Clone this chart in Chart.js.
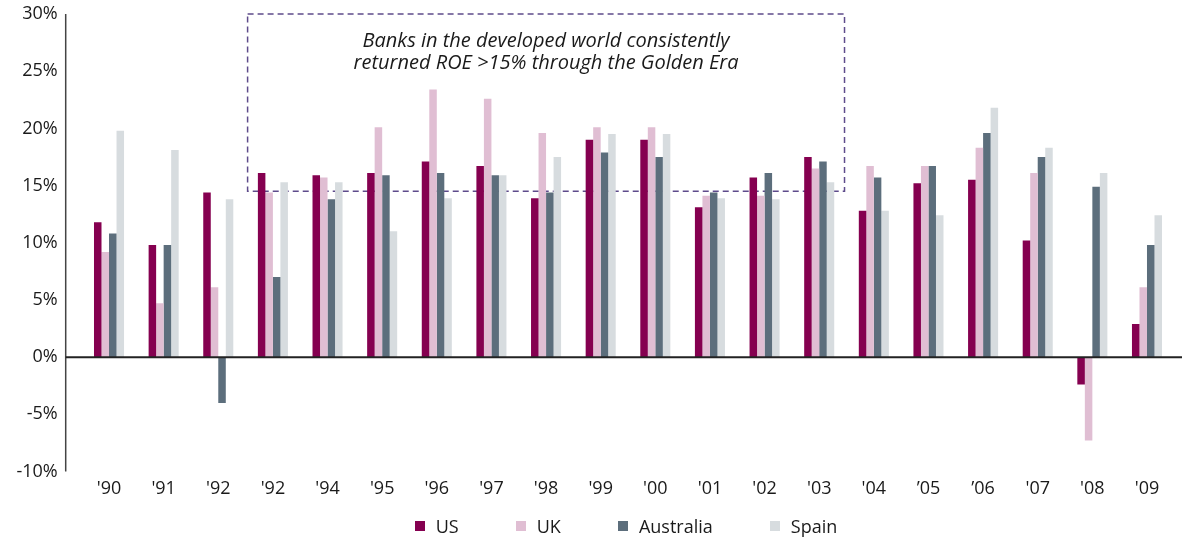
<!DOCTYPE html>
<html>
<head>
<meta charset="utf-8">
<script src="https://cdn.jsdelivr.net/npm/chart.js@4/dist/chart.umd.min.js"></script>
<style>
  html, body { margin: 0; padding: 0; background: #fff; }
  #wrap { position: relative; width: 1182px; height: 537px; }
  #legend {
    position: absolute; left: 70px; top: 514px; width: 1112px;
    display: flex; justify-content: center; gap: 57px;
    font: 18px "Open Sans", sans-serif; color: #1a1a1a;
  }
  #legend span.item { display: flex; align-items: center; }
  #legend i { display: inline-block; width: 10px; height: 10px; margin-right: 11px; }
</style>
</head>
<body>
<div id="wrap">
  <canvas id="grafico" width="1182" height="537"></canvas>
  <div id="legend"></div>
</div>
<script>
// Dados (ROE %)
const anos = ["'90", "'91", "'92", "'92", "'94", "'95", "'96", "'97", "'98", "'99",
              "'00", "'01", "'02", "'03", "'04", "\u201905", "\u201906", "'07", "'08", "'09"];
const us        = [11.8, 9.8, 14.4, 16.1, 15.9, 16.1, 17.1, 16.7, 13.9, 19.0, 19.0, 13.1, 15.7, 17.5, 12.8, 15.2, 15.5, 10.2, -2.4, 2.9];
const uk        = [9.2, 4.7, 6.1, 14.4, 15.7, 20.1, 23.4, 22.6, 19.6, 20.1, 20.1, 14.1, 14.1, 16.5, 16.7, 16.7, 18.3, 16.1, -7.3, 6.1];
const australia = [10.8, 9.8, -4.0, 7.0, 13.8, 15.9, 16.1, 15.9, 14.4, 17.9, 17.5, 14.4, 16.1, 17.1, 15.7, 16.7, 19.6, 17.5, 14.9, 9.8];
const spain     = [19.8, 18.1, 13.8, 15.3, 15.3, 11.0, 13.9, 15.9, 17.5, 19.5, 19.5, 13.9, 13.8, 15.3, 12.8, 12.4, 21.8, 18.3, 16.1, 12.4];
const yTicks    = [-10, -5, 0, 5, 10, 15, 20, 25, 30];

const nota = ['Banks in the developed world consistently', 'returned ROE >15% through the Golden Era'];
const notaDe = 3, notaAte = 13;      // índices das categorias cobertas pela caixa
const notaTopo = 30, notaBase = 14.5; // valores no eixo y

const series = [
  { label: 'US', data: us, cor: '#850050' },
  { label: 'UK', data: uk, cor: '#e0bed3' },
  { label: 'Australia', data: australia, cor: '#5c6e7c' },
  { label: 'Spain', data: spain, cor: '#d7dcdf' }
];

const fonte = '"Open Sans", sans-serif';

// Caixa tracejada + texto + eixos
const moldura = {
  id: 'moldura',
  beforeDatasetsDraw(chart) {
    const { ctx, scales: { x, y } } = chart;
    const meia = (x.getPixelForValue(1) - x.getPixelForValue(0)) / 2;
    const x0 = x.getPixelForValue(notaDe) - meia + 2;
    const x1 = x.getPixelForValue(notaAte) + meia - 2;
    const y0 = y.getPixelForValue(notaTopo);
    const y1 = y.getPixelForValue(notaBase);
    ctx.save();
    ctx.strokeStyle = '#5e4b8b';
    ctx.lineWidth = 1.5;
    ctx.setLineDash([6, 4]);
    ctx.strokeRect(x0, y0, x1 - x0, y1 - y0);
    ctx.setLineDash([]);
    ctx.fillStyle = '#1a1a1a';
    ctx.font = 'italic 20px ' + fonte;
    ctx.textAlign = 'center';
    ctx.textBaseline = 'middle';
    nota.forEach((linha, i) => ctx.fillText(linha, (x0 + x1) / 2, y0 + 27 + i * 22));
    ctx.restore();
  },
  afterDatasetsDraw(chart) {
    const { ctx, chartArea, scales: { y } } = chart;
    const ax = chartArea.left - 16;
    const zero = y.getPixelForValue(0);
    ctx.save();
    ctx.strokeStyle = '#444';
    ctx.lineWidth = 1.5;
    ctx.beginPath();
    ctx.moveTo(ax, y.getPixelForValue(30));
    ctx.lineTo(ax, y.getPixelForValue(-10));
    ctx.stroke();
    ctx.strokeStyle = '#222';
    ctx.lineWidth = 2;
    ctx.beginPath();
    ctx.moveTo(ax, zero);
    ctx.lineTo(chart.width, zero);
    ctx.stroke();
    ctx.restore();
  }
};

new Chart(document.querySelector('#grafico'), {
  type: 'bar',
  data: {
    labels: anos,
    datasets: series.map(s => ({
      label: s.label,
      data: s.data,
      backgroundColor: s.cor,
      borderWidth: 0,
      categoryPercentage: 0.55,
      barPercentage: 1.0
    }))
  },
  options: {
    responsive: false,
    animation: false,
    layout: { padding: { top: 14, right: 7.7, bottom: 35.5, left: 0 } },
    plugins: {
      legend: { display: false },
      tooltip: { enabled: false }
    },
    scales: {
      x: {
        grid: { display: false, drawTicks: false },
        border: { display: false },
        ticks: { color: '#1a1a1a', font: { family: fonte, size: 18 }, padding: 7, maxRotation: 0, autoSkip: false },
        afterFit(scale) { scale.height = 30; }
      },
      y: {
        min: -10,
        max: 30,
        grid: { display: false, drawTicks: false },
        border: { display: false },
        afterBuildTicks(scale) { scale.ticks = yTicks.map(v => ({ value: v })); },
        ticks: { color: '#1a1a1a', font: { family: fonte, size: 18 }, padding: 24, callback: v => v + '%' },
        afterFit(scale) {
          scale.width = 81.7;
          scale.paddingTop = 0;
          scale.paddingBottom = 0;
        }
      }
    }
  },
  plugins: [moldura]
});

// Legenda em HTML
document.querySelector('#legend').innerHTML = series
  .map(s => `<span class="item"><i style="background:${s.cor}"></i>${s.label}</span>`)
  .join('');
</script>
</body>
</html>
